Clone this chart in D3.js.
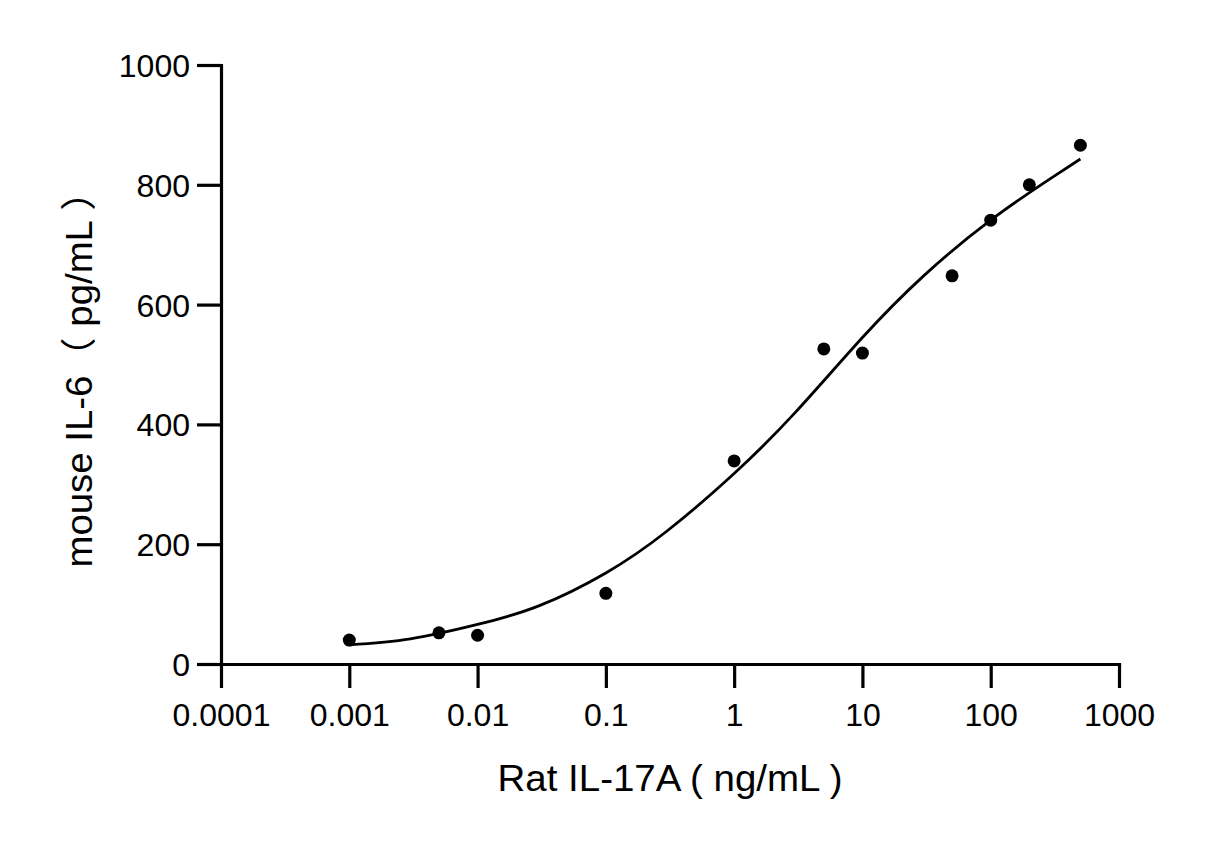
<!DOCTYPE html>
<html>
<head>
<meta charset="utf-8">
<script src="https://cdn.jsdelivr.net/npm/d3@7"></script>
<style>
  body { margin: 0; background: #fff; }
  text { font-family: "Liberation Sans", Arial, "Noto Sans CJK SC", sans-serif; fill: #000; }
</style>
</head>
<body>
<svg id="chart" width="1225" height="842"></svg>
<script>
// measured points
const concentrations = [0.001, 0.005, 0.01, 0.1, 1, 5, 10, 50, 100, 200, 500];
const il6Values = [40, 52, 48, 118, 339, 526, 519, 648, 741, 800, 866];

// fitted curve
const curveX = [0.001, 0.003, 0.01, 0.03, 0.1, 0.3, 1, 3, 10, 30, 100, 300, 500];
const curveY = [32, 42, 66, 97, 152, 222, 318, 420, 545, 648, 741, 812, 843];

const xTicks = [0.0001, 0.001, 0.01, 0.1, 1, 10, 100, 1000];
const xTickLabels = ["0.0001", "0.001", "0.01", "0.1", "1", "10", "100", "1000"];
const yTicks = [0, 200, 400, 600, 800, 1000];

const svg = d3.select("#chart");
const margin = { top: 65, right: 106, bottom: 178, left: 221 };
const width = 1225 - margin.left - margin.right;
const height = 842 - margin.top - margin.bottom;

const chart = svg.append("g")
  .attr("transform", `translate(${margin.left}, ${margin.top})`);

const x = d3.scaleLog()
  .domain([0.0001, 1000])
  .range([0, width]);

const y = d3.scaleLinear()
  .domain([0, 1000])
  .range([height, 0]);

const xAxis = chart.append("g")
  .attr("transform", `translate(0, ${height})`)
  .call(d3.axisBottom(x)
    .tickValues(xTicks)
    .tickFormat((d, i) => xTickLabels[i])
    .tickSize(24)
    .tickSizeOuter(0));

xAxis.selectAll("text")
  .attr("y", 62)
  .attr("dy", 0)
  .style("font-size", "32px");

const yAxis = chart.append("g")
  .call(d3.axisLeft(y)
    .tickValues(yTicks)
    .tickFormat(d3.format("d"))
    .tickSize(24)
    .tickSizeOuter(0));

yAxis.selectAll("text")
  .attr("x", -31)
  .attr("dy", "0.36em")
  .style("font-size", "32px");

chart.selectAll(".domain, .tick line")
  .attr("stroke", "#000")
  .attr("stroke-width", 3.2);

chart.selectAll(".domain").attr("stroke-linecap", "square");

const line = d3.line()
  .x(d => x(d))
  .y((d, i) => y(curveY[i]))
  .curve(d3.curveNatural);

chart.append("path")
  .datum(curveX)
  .attr("fill", "none")
  .attr("stroke", "#000")
  .attr("stroke-width", 2.8)
  .attr("d", line);

chart.selectAll("circle")
  .data(concentrations)
  .enter()
  .append("circle")
  .attr("cx", d => x(d))
  .attr("cy", (d, i) => y(il6Values[i]))
  .attr("r", 6.5)
  .attr("fill", "#000");

svg.append("text")
  .attr("x", 670)
  .attr("y", 791)
  .attr("text-anchor", "middle")
  .attr("textLength", 345)
  .attr("lengthAdjust", "spacingAndGlyphs")
  .style("font-size", "37px")
  .text("Rat IL-17A ( ng/mL )");

svg.append("text")
  .attr("transform", "translate(92, 370) rotate(-90)")
  .attr("text-anchor", "middle")
  .attr("textLength", 395)
  .attr("lengthAdjust", "spacingAndGlyphs")
  .style("font-size", "36px")
  .text("mouse IL-6（ pg/mL ）");
</script>
</body>
</html>
